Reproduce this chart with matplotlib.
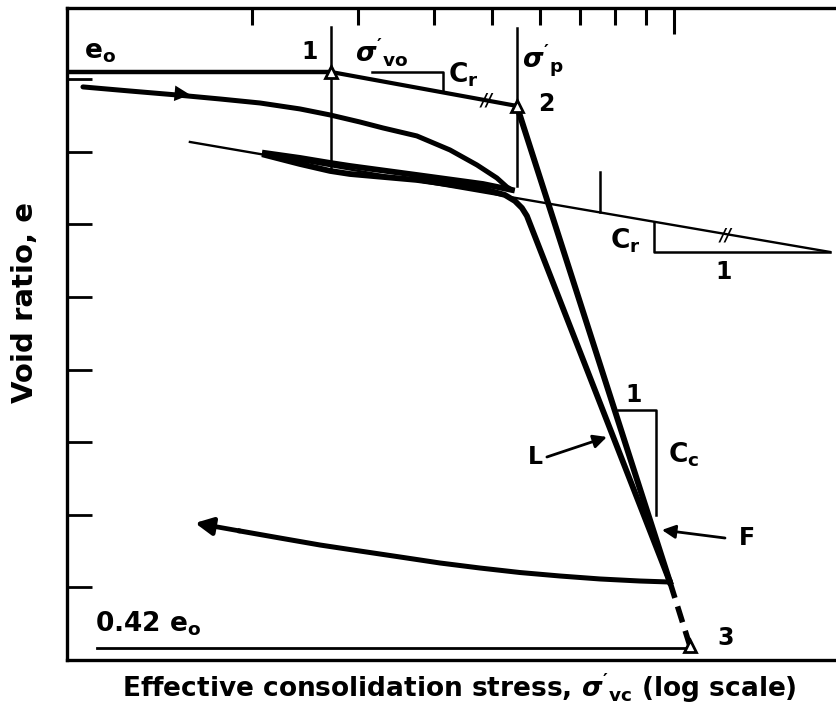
import matplotlib
matplotlib.use("Agg")
import matplotlib.pyplot as plt
from matplotlib.ticker import FixedLocator, NullFormatter

plt.rcParams['font.family'] = ['DejaVu Sans']
plt.rcParams['mathtext.fontset'] = 'custom'
plt.rcParams['mathtext.rm'] = 'DejaVu Sans:bold'
plt.rcParams['mathtext.it'] = 'DejaVu Sans:bold:italic'
plt.rcParams['mathtext.bf'] = 'DejaVu Sans:bold'

# stress (log axis, arbitrary units) and void ratio (arbitrary units)
x_min, x_max = 0.989, 18.55
y_min, y_max = 0.0, 8.98

e0 = 8.099
e042 = 0.165

# field loading curve
load_s = [1.051, 1.256, 1.504, 1.772, 2.063, 2.403, 2.696, 3.021, 3.298, 3.753, 4.258, 4.720, 5.092, 5.290, 5.393]
load_e = [7.893, 7.837, 7.782, 7.727, 7.672, 7.590, 7.507, 7.410, 7.328, 7.218, 7.025, 6.818, 6.639, 6.515, 6.474]

# unload part of the small loop
unl_s = [5.393, 4.829, 3.753, 2.908, 2.696, 2.403, 2.103]
unl_e = [6.474, 6.556, 6.680, 6.804, 6.846, 6.915, 6.983]

# reload then laboratory virgin line (L)
rel_s = [2.103, 2.403, 2.696, 2.908, 3.753, 4.829, 5.251, 5.455, 5.602, 5.710, 9.849]
rel_e = [6.956, 6.832, 6.736, 6.694, 6.612, 6.488, 6.405, 6.322, 6.226, 6.116, 1.074]

# final unloading
fin_s = [9.849, 8.782, 7.543, 6.475, 5.559, 4.773, 4.100, 3.519, 3.021, 2.594, 2.227, 1.912]
fin_e = [1.074, 1.088, 1.116, 1.157, 1.205, 1.267, 1.336, 1.419, 1.501, 1.584, 1.680, 1.777]
fin_tip = (1.611, 1.887)

# construction points 1, 2, 3
pt_s = [2.705, 5.496, 10.63]
pt_e = [8.099, 7.631, 0.193]

# thin rebound line with slope Cr
cr_s = [1.580, 18.13]
cr_e = [7.135, 5.620]

fig = plt.figure(figsize=(8.36, 7.04), dpi=100)
ax = fig.add_axes([67 / 836, 44 / 704, 769 / 836, 652 / 704])
ax.set_xscale('log')
ax.set_xlim(x_min, x_max)
ax.set_ylim(y_min, y_max)

k = 'black'
# e0 line and line 1-2
ax.plot([x_min, pt_s[0]], [e0, e0], color=k, lw=3.2, solid_capstyle='butt')
ax.plot(pt_s[:2], pt_e[:2], color=k, lw=3.0)
# field line F from 2 to end of L
ax.plot([pt_s[1], rel_s[-1]], [pt_e[1], rel_e[-1]], color=k, lw=4.3)
ax.plot([rel_s[-1], pt_s[2]], [rel_e[-1], pt_e[2]], color=k, lw=4.0, ls=(0, (3, 1.6)))

ax.plot(load_s, load_e, color=k, lw=3.6, solid_capstyle='round', solid_joinstyle='round')
ax.plot(unl_s, unl_e, color=k, lw=4.2, solid_joinstyle='round')
ax.plot(rel_s, rel_e, color=k, lw=4.2, solid_joinstyle='round')
ax.plot(fin_s, fin_e, color=k, lw=3.6, solid_joinstyle='round')

ax.plot(cr_s, cr_e, color=k, lw=1.7)
ax.plot([1.108, pt_s[2]], [e042, e042], color=k, lw=2.0)

# vertical guides
ax.plot([pt_s[0], pt_s[0]], [8.719, 6.749], color=k, lw=1.8)
ax.plot([pt_s[1], pt_s[1]], [8.705, 6.529], color=k, lw=1.8)
ax.plot([7.543, 7.543], [6.722, 6.171], color=k, lw=1.8)

# slope triangles
ax.plot([3.162, 4.146, 4.146], [8.099, 8.099, 7.837], color=k, lw=1.8)
ax.plot([9.267, 9.267, 18.13], [6.036, 5.620, 5.620], color=k, lw=1.8)
ax.plot([8.076, 9.337, 9.337], [3.444, 3.444, 1.997], color=k, lw=1.8)

ax.plot(pt_s, pt_e, ls='none', marker='^', ms=9, mfc='white', mec=k, mew=2.0, zorder=5)

# arrows
ax.annotate('', xy=(1.598, 7.782), xytext=(1.409, 7.824),
            arrowprops=dict(arrowstyle='-|>', color=k, lw=0, mutation_scale=28))
ax.annotate('', xy=fin_tip, xytext=(fin_s[-1], fin_e[-1]),
            arrowprops=dict(arrowstyle='-|>', color=k, lw=3.4, mutation_scale=26,
                            shrinkA=0, shrinkB=0))
ax.annotate('', xy=(7.745, 3.072), xytext=(6.162, 2.796),
            arrowprops=dict(arrowstyle='-|>', color=k, lw=2.0, mutation_scale=20,
                            shrinkA=0, shrinkB=0))
ax.annotate('', xy=(9.552, 1.791), xytext=(12.15, 1.680),
            arrowprops=dict(arrowstyle='-|>', color=k, lw=2.0, mutation_scale=20,
                            shrinkA=0, shrinkB=0))

fs = 17
tb = dict(fontsize=fs, fontweight='bold', color=k)
ax.text(1.121, 8.375, r'$\mathrm{e_o}$', ha='center', va='center', fontsize=19)
ax.text(2.497, 8.375, '1', ha='center', va='center', **tb)
ax.text(2.964, 8.375, r"$\sigma'_{\mathrm{vo}}$", ha='left', va='center', fontsize=19)
ax.text(4.225, 8.058, r'$\mathrm{C_r}$', ha='left', va='center', fontsize=19)
ax.text(5.602, 8.264, r"$\sigma'_{\mathrm{p}}$", ha='left', va='center', fontsize=19)
ax.text(5.955, 7.658, '2', ha='left', va='center', **tb)
ax.text(4.901, 7.700, '//', ha='center', va='center', fontsize=12, fontweight='bold', style='italic')
ax.text(7.834, 5.771, r'$\mathrm{C_r}$', ha='left', va='center', fontsize=19)
ax.text(12.20, 5.840, '//', ha='center', va='center', fontsize=12, fontweight='bold', style='italic')
ax.text(12.10, 5.344, '1', ha='center', va='center', **tb)
ax.text(8.584, 3.650, '1', ha='center', va='center', **tb)
ax.text(9.774, 2.824, r'$\mathrm{C_c}$', ha='left', va='center', fontsize=19)
ax.text(5.888, 2.796, 'L', ha='center', va='center', **tb)
ax.text(13.21, 1.680, 'F', ha='center', va='center', **tb)
ax.text(12.20, 0.303, '3', ha='center', va='center', **tb)
ax.text(1.100, 0.496, r'$\mathrm{0.42\ e_o}$', ha='left', va='center', fontsize=19)

ax.set_xlabel(r"Effective consolidation stress, $\sigma'_{\mathrm{vc}}$ (log scale)",
              fontsize=19, fontweight='bold')
ax.set_ylabel('Void ratio, e', fontsize=21, fontweight='bold')
ax.xaxis.set_label_coords(0.51, -0.016)
ax.yaxis.set_label_coords(-0.036, 0.548)

# axes frame
for side in ['left', 'top', 'bottom']:
    ax.spines[side].set_linewidth(2.4)
ax.spines['right'].set_visible(False)

ax.xaxis.set_ticks_position('top')
ax.xaxis.set_major_locator(FixedLocator([10]))
ax.xaxis.set_minor_locator(FixedLocator([2, 3, 4, 5, 6, 7, 8, 9]))
ax.xaxis.set_major_formatter(NullFormatter())
ax.xaxis.set_minor_formatter(NullFormatter())
ax.tick_params(axis='x', which='major', direction='in', length=19, width=2.2)
ax.tick_params(axis='x', which='minor', direction='in', length=12, width=2.2)
ax.set_yticks([1, 2, 3, 4, 5, 6, 7, 8])
ax.yaxis.set_ticklabels([])
ax.tick_params(axis='y', which='both', direction='in', length=18, width=2.0)
ax.tick_params(axis='y', which='minor', length=0)

fig.savefig('out.png', dpi=100)
